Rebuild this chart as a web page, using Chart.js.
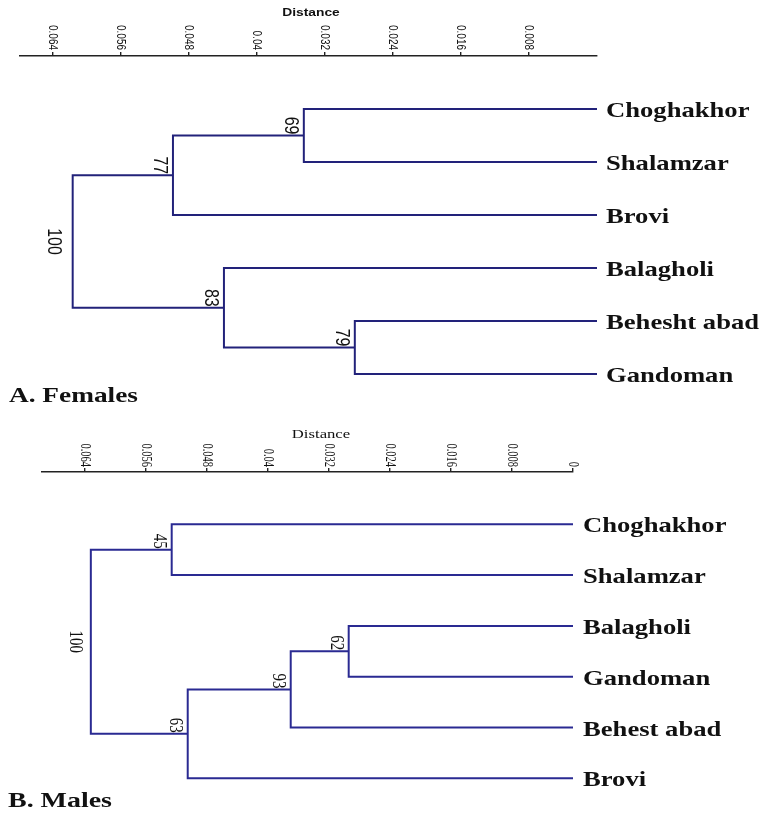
<!DOCTYPE html>
<html>
<head>
<meta charset="utf-8">
<script src="https://cdn.jsdelivr.net/npm/chart.js@4.4.1/dist/chart.umd.min.js"></script>
<style>
html,body{margin:0;padding:0;background:#fff;}
#wrap{position:relative;width:760px;height:819px;background:#fff;}
canvas{position:absolute;left:0;}
</style>
</head>
<body>
<div id="wrap">
<canvas id="cf" width="760" height="410" style="top:0px"></canvas>
<canvas id="cm" width="760" height="409" style="top:410px"></canvas>
</div>
<script>
// ---------- A. Females ----------
const femaleLeaves = ['Choghakhor', 'Shalamzar', 'Brovi', 'Balagholi', 'Behesht abad', 'Gandoman'];
// merges (leaves are 0..5, merged clusters are 6..10)
const femaleChildA = [4, 0, 3, 7, 9];
const femaleChildB = [5, 1, 6, 2, 8];
const femaleHeights = [0.0285, 0.0345, 0.0439, 0.0499, 0.0617];
const femaleSupport = [79, 69, 83, 77, 100];
const femaleTicks = [0.064, 0.056, 0.048, 0.04, 0.032, 0.024, 0.016, 0.008];

// ---------- B. Males ----------
const maleLeaves = ['Choghakhor', 'Shalamzar', 'Balagholi', 'Gandoman', 'Behest abad', 'Brovi'];
const maleChildA = [2, 6, 7, 0, 9];
const maleChildB = [3, 4, 5, 1, 8];
const maleHeights = [0.0294, 0.0370, 0.0505, 0.0526, 0.0632];
const maleSupport = [62, 93, 63, 45, 100];
const maleTicks = [0.064, 0.056, 0.048, 0.04, 0.032, 0.024, 0.016, 0.008, 0];

function layoutTree(nLeaves, A, B, H) {
  const pos = [], hgt = [];
  for (let i = 0; i < nLeaves; i++) { pos[i] = i; hgt[i] = 0; }
  A.forEach((a, k) => {
    const id = nLeaves + k;
    pos[id] = (pos[a] + pos[B[k]]) / 2;
    hgt[id] = H[k];
  });
  return { pos, hgt };
}

function treeDatasets(nLeaves, A, B, H, color) {
  const { pos, hgt } = layoutTree(nLeaves, A, B, H);
  return A.map((a, k) => {
    const b = B[k], h = H[k];
    return {
      data: [
        { x: hgt[a], y: pos[a] },
        { x: h, y: pos[a] },
        { x: h, y: pos[b] },
        { x: hgt[b], y: pos[b] }
      ],
      showLine: true,
      borderColor: color,
      borderWidth: 2,
      pointRadius: 0,
      pointHoverRadius: 0,
      fill: false,
      tension: 0,
      borderJoinStyle: 'miter',
      borderCapStyle: 'butt'
    };
  });
}

function stretchText(ctx, text, x, y, sx, align, baseline) {
  ctx.save();
  ctx.translate(x, y);
  ctx.scale(sx, 1);
  ctx.textAlign = align;
  ctx.textBaseline = baseline;
  ctx.fillText(text, 0, 0);
  ctx.restore();
}

function rotText(ctx, text, x, y, sx, align, baseline) {
  ctx.save();
  ctx.translate(x, y);
  ctx.scale(sx, 1);
  ctx.rotate(Math.PI / 2);
  ctx.textAlign = align;
  ctx.textBaseline = baseline;
  ctx.fillText(text, 0, 0);
  ctx.restore();
}

const dendroText = {
  id: 'dendroText',
  afterDraw(chart, args, o) {
    const ctx = chart.ctx, xs = chart.scales.x, ys = chart.scales.y;
    ctx.save();
    ctx.fillStyle = '#111';
    // axis tick labels (rotated, reading top to bottom)
    ctx.font = o.tickFont;
    o.ticks.forEach(v => {
      rotText(ctx, String(v), xs.getPixelForValue(v), o.tickLabelEnd, o.tickStretch, 'right', 'middle');
    });
    // axis title
    ctx.font = o.titleFont;
    stretchText(ctx, 'Distance', o.titleX, o.titleY, o.titleStretch, 'center', 'middle');
    // leaf labels
    ctx.font = o.leafFont;
    const x0 = xs.getPixelForValue(0) + o.leafGap;
    o.leaves.forEach((name, i) => {
      stretchText(ctx, name, x0, ys.getPixelForValue(i) + o.leafDy, o.leafStretch, 'left', 'alphabetic');
    });
    // bootstrap values
    const { pos } = layoutTree(o.leaves.length, o.A, o.B, o.H);
    ctx.font = o.supFont;
    const n = o.leaves.length;
    o.A.forEach((a, k) => {
      const xp = xs.getPixelForValue(o.H[k]) - o.supGap;
      const isRoot = k === o.A.length - 1;
      if (isRoot) {
        const ym = ys.getPixelForValue((pos[a] + pos[o.B[k]]) / 2);
        rotText(ctx, String(o.S[k]), xp - o.rootGap, ym, o.supStretch, 'center', 'top');
      } else {
        const ym = ys.getPixelForValue(pos[n + k]);
        rotText(ctx, String(o.S[k]), xp, ym - 1, o.supStretch, 'right', 'top');
      }
    });
    // panel caption
    ctx.font = o.capFont;
    stretchText(ctx, o.caption, o.capX, o.capY, o.capStretch, 'left', 'alphabetic');
    ctx.restore();
  }
};

function makeChart(id, cfg) {
  return new Chart(document.getElementById(id), {
    type: 'scatter',
    data: { datasets: treeDatasets(cfg.leaves.length, cfg.A, cfg.B, cfg.H, cfg.color) },
    options: {
      responsive: false,
      animation: false,
      devicePixelRatio: 1,
      layout: { padding: cfg.padding },
      plugins: {
        legend: { display: false },
        tooltip: { enabled: false },
        dendroText: cfg.text
      },
      scales: {
        x: {
          type: 'linear',
          position: 'top',
          reverse: true,
          min: 0,
          max: cfg.xMax,
          afterBuildTicks: (s) => { s.ticks = cfg.ticks.map(v => ({ value: v })); },
          afterFit: (s) => { s.height = cfg.axisY; },
          ticks: { display: false },
          grid: { display: true, drawOnChartArea: false, drawTicks: true, tickLength: 4, color: '#222', lineWidth: 1.4 },
          border: { display: true, color: '#222', width: 1.6 }
        },
        y: {
          type: 'linear',
          display: false,
          reverse: true,
          min: cfg.yMin,
          max: 5.5
        }
      }
    },
    plugins: [dendroText]
  });
}

makeChart('cf', {
  leaves: femaleLeaves, A: femaleChildA, B: femaleChildB, H: femaleHeights,
  color: '#22227a', xMax: 0.0679, axisY: 56, yMin: -1, ticks: femaleTicks,
  padding: { left: 20, right: 163, top: 0, bottom: 9.5 },
  text: {
    ticks: femaleTicks, leaves: femaleLeaves, A: femaleChildA, B: femaleChildB, H: femaleHeights, S: femaleSupport,
    tickFont: '10px "Liberation Sans", Arial, sans-serif', tickLabelEnd: 50, tickStretch: 1.35,
    titleFont: 'bold 10px "Liberation Sans", Arial, sans-serif', titleX: 311, titleY: 13, titleStretch: 1.38,
    leafFont: 'bold 22px "Liberation Serif", "Times New Roman", serif', leafGap: 9, leafDy: 8, leafStretch: 1.21,
    supFont: '16px "Liberation Sans", Arial, sans-serif', supGap: 3, rootGap: 6, supStretch: 1.3,
    capFont: 'bold 21px "Liberation Serif", "Times New Roman", serif', caption: 'A. Females', capX: 9, capY: 402, capStretch: 1.3
  }
});

makeChart('cm', {
  leaves: maleLeaves, A: maleChildA, B: maleChildB, H: maleHeights,
  color: '#2a2a92', xMax: 0.0696, axisY: 62, yMin: -1.03, ticks: maleTicks,
  padding: { left: 42, right: 187, top: 0, bottom: 15.3 },
  text: {
    ticks: maleTicks, leaves: maleLeaves, A: maleChildA, B: maleChildB, H: maleHeights, S: maleSupport,
    tickFont: '10.5px "Liberation Serif", "Times New Roman", serif', tickLabelEnd: 57, tickStretch: 1.35,
    titleFont: '11.5px "Liberation Serif", "Times New Roman", serif', titleX: 321, titleY: 25, titleStretch: 1.45,
    leafFont: 'bold 22px "Liberation Serif", "Times New Roman", serif', leafGap: 10, leafDy: 8, leafStretch: 1.21,
    supFont: '15px "Liberation Serif", "Times New Roman", serif', supGap: 3, rootGap: 3, supStretch: 1.3,
    capFont: 'bold 21px "Liberation Serif", "Times New Roman", serif', caption: 'B. Males', capX: 8, capY: 397, capStretch: 1.33
  }
});
</script>
</body>
</html>
